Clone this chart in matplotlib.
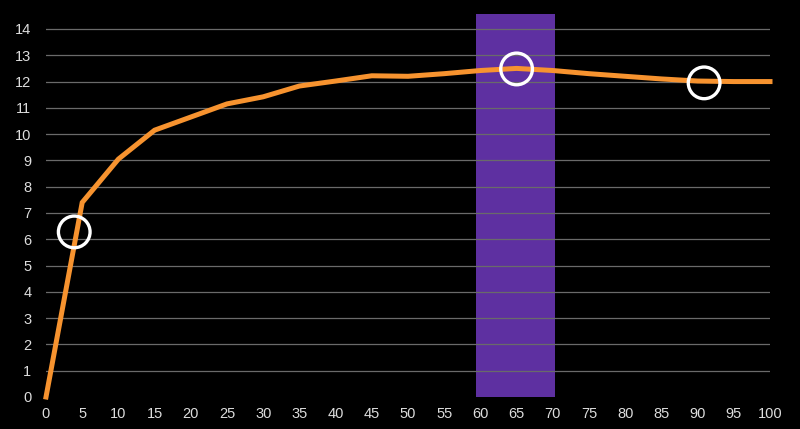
import matplotlib
matplotlib.use("Agg")
import matplotlib.pyplot as plt

x_vals = [0, 5, 10, 15, 20, 25, 30, 35, 40, 45, 50, 55, 60, 65, 70, 75, 80, 85, 90, 95, 100]
y_vals = [0, 7.4, 9.05, 10.15, 10.65, 11.15, 11.42, 11.83, 12.02, 12.22, 12.2, 12.3, 12.42, 12.5, 12.42, 12.3, 12.2, 12.1, 12.02, 12.0, 12.0]
circle_x = [3.9, 65.0, 90.9]
circle_y = [6.28, 12.48, 11.95]
band_start, band_end = 59.4, 70.3
x_ticks = list(range(0, 101, 5))
y_ticks = list(range(0, 15))

plt.rcParams['font.family'] = ['Liberation Sans', 'DejaVu Sans']

fig = plt.figure(figsize=(8, 4.29), dpi=100, facecolor='black')
ax = fig.add_axes([46/800, 1-397/429, (770-46)/800, (397-14)/429])
ax.set_facecolor('black')

ax.axvspan(band_start, band_end, color='#5E30A1', zorder=1, lw=0)
for yt in y_ticks[1:]:
    ax.axhline(yt, color='#6a6a6a', lw=0.9, zorder=2)

ax.plot(x_vals, y_vals, color='#F7932F', lw=3.6, zorder=3, solid_joinstyle='miter', clip_on=False)
ax.scatter(circle_x, circle_y, s=520, facecolors='none', edgecolors='white', linewidths=2.4, zorder=4)

ax.set_xlim(0, 100)
ax.set_ylim(0, 14.57)
ax.set_xticks(x_ticks)
ax.set_yticks(y_ticks)
ax.tick_params(axis='both', colors='#dddddd', labelsize=10.5, length=0)
ax.tick_params(axis='x', pad=7)
ax.tick_params(axis='y', pad=10.5)
for s in ax.spines.values():
    s.set_visible(False)

fig.savefig('out.png', dpi=100, facecolor='black')
